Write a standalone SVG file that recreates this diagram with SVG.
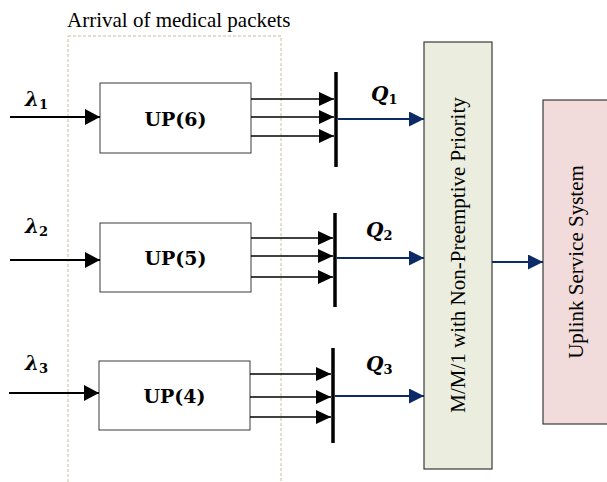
<svg xmlns="http://www.w3.org/2000/svg" width="607" height="482" viewBox="0 0 607 482">
  <style>
    .box { fill: #ffffff; stroke: #3a3a3a; stroke-width: 1; }
    .up { font-family: "DejaVu Serif", serif; font-weight: bold; font-size: 19px; text-anchor: middle; fill: #000; }
    .lam { font-family: "DejaVu Serif", serif; font-weight: bold; font-style: italic; font-size: 20px; fill: #000; }
    .sub { font-size: 13px; font-style: normal; }
    .wire { stroke: #000; stroke-width: 2; fill: none; }
    .feed { stroke: #000; stroke-width: 1.6; fill: none; }
    .bar { stroke: #000; stroke-width: 3.5; }
    .blue { stroke: #0c2a66; stroke-width: 1.8; fill: none; }
    .tm { font-family: "Liberation Serif", serif; font-size: 21px; fill: #000; }
  </style>
  <defs>
    <marker id="bigHead" markerUnits="userSpaceOnUse" markerWidth="16" markerHeight="16" refX="15" refY="8" orient="auto" viewBox="0 0 16 16">
      <path d="M0,0 L15,8 L0,16 Z" fill="#000"/>
    </marker>
    <marker id="smallHead" markerUnits="userSpaceOnUse" markerWidth="16" markerHeight="14" refX="15" refY="7" orient="auto" viewBox="0 0 16 14">
      <path d="M0,0 L15,7 L0,14 Z" fill="#000"/>
    </marker>
    <marker id="blueHead" markerUnits="userSpaceOnUse" markerWidth="16" markerHeight="15" refX="15" refY="7.5" orient="auto" viewBox="0 0 16 15">
      <path d="M0,0 L15,7.5 L0,15 Z" fill="#0c2a66"/>
    </marker>
  </defs>

  <!-- arrival region -->
  <g id="arrival">
    <rect x="68" y="36" width="213" height="460" fill="none" stroke="#c9bf94" stroke-width="1" stroke-dasharray="3,2"/>
    <text class="tm" x="67" y="27">Arrival of medical packets</text>
  </g>

  <!-- user priority blocks -->
  <g id="up6">
    <rect class="box" x="100" y="83" width="151" height="70"/>
    <text class="up" x="175.5" y="126">UP(6)</text>
  </g>
  <g id="up5">
    <rect class="box" x="100" y="223" width="151" height="69"/>
    <text class="up" x="175.5" y="265">UP(5)</text>
  </g>
  <g id="up4">
    <rect class="box" x="99" y="361" width="151" height="69"/>
    <text class="up" x="174.5" y="403">UP(4)</text>
  </g>

  <!-- queue bars -->
  <g id="q1">
    <line class="bar" x1="336" y1="72" x2="336" y2="167"/>
    <text class="lam" x="371" y="101">Q<tspan class="sub" dy="3">1</tspan></text>
  </g>
  <g id="q2">
    <line class="bar" x1="335" y1="213" x2="335" y2="307"/>
    <text class="lam" x="366" y="237">Q<tspan class="sub" dy="3">2</tspan></text>
  </g>
  <g id="q3">
    <line class="bar" x1="333" y1="348" x2="333" y2="443"/>
    <text class="lam" x="366" y="371">Q<tspan class="sub" dy="3">3</tspan></text>
  </g>

  <!-- scheduler -->
  <g id="scheduler">
    <rect x="424" y="42" width="68" height="427" fill="#ebeedf" stroke="#3a3a3a" stroke-width="1.2"/>
    <text class="tm" transform="translate(465 255) rotate(-90)" text-anchor="middle">M/M/1 with Non-Preemptive Priority</text>
  </g>

  <!-- uplink service -->
  <g id="uplink">
    <rect x="543" y="100" width="70" height="324" fill="#f2dcdb" stroke="#3a3a3a" stroke-width="1.2"/>
    <text class="tm" transform="translate(583 262) rotate(-90)" text-anchor="middle">Uplink Service System</text>
  </g>

  <!-- arrival rate labels -->
  <g id="rates">
    <text class="lam" x="25" y="106">λ<tspan class="sub" dy="3">1</tspan></text>
    <text class="lam" x="25" y="233">λ<tspan class="sub" dy="3">2</tspan></text>
    <text class="lam" x="25" y="370">λ<tspan class="sub" dy="3">3</tspan></text>
  </g>

  <!-- connectors -->
  <g id="connectors">
    <line class="wire" x1="10" y1="117" x2="100" y2="117" marker-end="url(#bigHead)"/>
    <line class="wire" x1="10" y1="260" x2="100" y2="260" marker-end="url(#bigHead)"/>
    <line class="wire" x1="9" y1="393" x2="99" y2="393" marker-end="url(#bigHead)"/>

    <line class="feed" x1="251" y1="99" x2="334" y2="99" marker-end="url(#smallHead)"/>
    <line class="feed" x1="251" y1="117" x2="334" y2="117" marker-end="url(#smallHead)"/>
    <line class="feed" x1="251" y1="136" x2="334" y2="136" marker-end="url(#smallHead)"/>

    <line class="feed" x1="251" y1="238" x2="333" y2="238" marker-end="url(#smallHead)"/>
    <line class="feed" x1="251" y1="256" x2="333" y2="256" marker-end="url(#smallHead)"/>
    <line class="feed" x1="251" y1="277" x2="333" y2="277" marker-end="url(#smallHead)"/>

    <line class="feed" x1="250" y1="374" x2="331" y2="374" marker-end="url(#smallHead)"/>
    <line class="feed" x1="250" y1="397" x2="331" y2="397" marker-end="url(#smallHead)"/>
    <line class="feed" x1="250" y1="417" x2="331" y2="417" marker-end="url(#smallHead)"/>

    <line class="blue" x1="338" y1="119" x2="424" y2="119" marker-end="url(#blueHead)"/>
    <line class="blue" x1="337" y1="258" x2="424" y2="258" marker-end="url(#blueHead)"/>
    <line class="blue" x1="335" y1="396" x2="424" y2="396" marker-end="url(#blueHead)"/>
    <line class="blue" x1="492" y1="262" x2="543" y2="262" marker-end="url(#blueHead)"/>
  </g>
</svg>
